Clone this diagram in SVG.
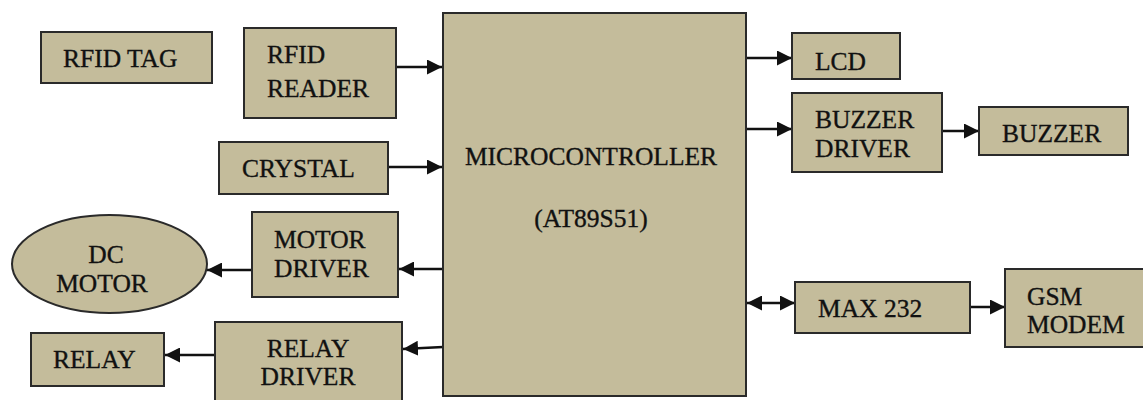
<svg xmlns="http://www.w3.org/2000/svg" width="1143" height="400" viewBox="0 0 1143 400">
<defs>
<style>
.b{fill:#c4bc9b;stroke:#2a2a2a;stroke-width:2}
.t{font-family:"Liberation Serif","Times New Roman",serif;font-size:25.5px;fill:#111;stroke:#111;stroke-width:0.35}
.c{fill:none;stroke:#111;stroke-width:2.5}
</style>
<marker id="ah" viewBox="0 0 10 10" refX="10" refY="5" markerWidth="15" markerHeight="15" markerUnits="userSpaceOnUse" orient="auto-start-reverse">
<path d="M0,0 L10,5 L0,10 Z" fill="#111"/>
</marker>
</defs>
<rect width="1143" height="400" fill="#fff"/>
<g id="connectors">
<line class="c" x1="396" y1="67" x2="442" y2="67" marker-end="url(#ah)"/>
<line class="c" x1="388" y1="167" x2="442" y2="167" marker-end="url(#ah)"/>
<line class="c" x1="443" y1="269" x2="399" y2="269" marker-end="url(#ah)"/>
<line class="c" x1="252" y1="270" x2="207" y2="270" marker-end="url(#ah)"/>
<line class="c" x1="443" y1="347" x2="403" y2="349" marker-end="url(#ah)"/>
<line class="c" x1="215" y1="355" x2="165" y2="355" marker-end="url(#ah)"/>
<line class="c" x1="746" y1="58" x2="792" y2="58" marker-end="url(#ah)"/>
<line class="c" x1="746" y1="129" x2="792" y2="129" marker-end="url(#ah)"/>
<line class="c" x1="942" y1="131" x2="979" y2="131" marker-end="url(#ah)"/>
<line class="c" x1="747" y1="303" x2="795" y2="303" marker-start="url(#ah)" marker-end="url(#ah)"/>
<line class="c" x1="970" y1="307" x2="1005" y2="307" marker-end="url(#ah)"/>
</g>
<g id="rfid-tag"><rect class="b" x="41" y="32" width="171" height="51"/><text class="t" x="63" y="67">RFID TAG</text></g>
<g id="rfid-reader"><rect class="b" x="244" y="28" width="152" height="90"/><text class="t" x="267" y="63">RFID</text><text class="t" x="267" y="97">READER</text></g>
<g id="crystal"><rect class="b" x="219" y="142" width="169" height="52"/><text class="t" x="242" y="177">CRYSTAL</text></g>
<g id="microcontroller"><rect class="b" x="443" y="13" width="303" height="383"/><text class="t" x="591" y="165" text-anchor="middle">MICROCONTROLLER</text><text class="t" x="591" y="227" text-anchor="middle">(AT89S51)</text></g>
<g id="motor-driver"><rect class="b" x="252" y="212" width="146" height="85"/><text class="t" x="274" y="248">MOTOR</text><text class="t" x="274" y="277">DRIVER</text></g>
<g id="dc-motor"><ellipse class="b" cx="109.5" cy="264" rx="97.5" ry="49"/><text class="t" x="106" y="263" text-anchor="middle">DC</text><text class="t" x="102" y="292" text-anchor="middle">MOTOR</text></g>
<g id="relay-driver"><rect class="b" x="215" y="322" width="187" height="86"/><text class="t" x="308" y="357" text-anchor="middle">RELAY</text><text class="t" x="308" y="385" text-anchor="middle">DRIVER</text></g>
<g id="relay"><rect class="b" x="31" y="333" width="133" height="53"/><text class="t" x="53" y="368">RELAY</text></g>
<g id="lcd"><rect class="b" x="792" y="33" width="108" height="46"/><text class="t" x="815" y="70">LCD</text></g>
<g id="buzzer-driver"><rect class="b" x="792" y="93" width="150" height="79"/><text class="t" x="815" y="128">BUZZER</text><text class="t" x="815" y="157">DRIVER</text></g>
<g id="buzzer"><rect class="b" x="979" y="107" width="149" height="48"/><text class="t" x="1002" y="142">BUZZER</text></g>
<g id="max232"><rect class="b" x="795" y="282" width="175" height="51"/><text class="t" x="818" y="317">MAX 232</text></g>
<g id="gsm-modem"><rect class="b" x="1005" y="269" width="145" height="78"/><text class="t" x="1027" y="305">GSM</text><text class="t" x="1027" y="333">MODEM</text></g>
</svg>
